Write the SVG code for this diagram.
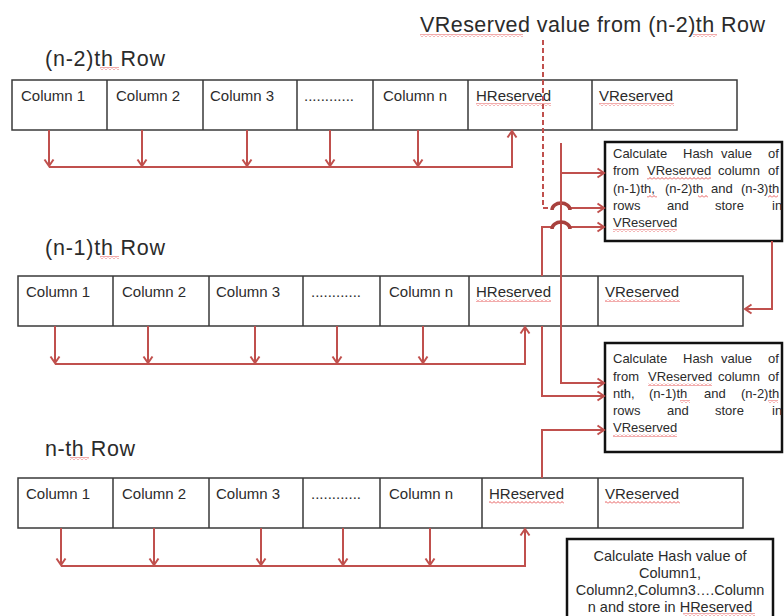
<svg xmlns="http://www.w3.org/2000/svg" width="784" height="616" viewBox="0 0 784 616">
<defs>
<marker id="ah" viewBox="-8 -6 10 12" refX="0" refY="0" markerWidth="10" markerHeight="12" markerUnits="userSpaceOnUse" orient="auto">
<path d="M-6.5,-4.5 L0,0 L-6.5,4.5" fill="none" stroke="#C0504D" stroke-width="2"/>
</marker>
<pattern id="sq" width="4" height="3" patternUnits="userSpaceOnUse">
<path d="M0,2.5 L2,0.5 L4,2.5" fill="none" stroke="#E03030" stroke-width="0.8"/>
</pattern>
<style>
.tb{fill:#fff;stroke:#3a3a3a;stroke-width:1.5}
.dv{stroke:#3a3a3a;stroke-width:1.5}
.ct{font-family:"Liberation Sans",Arial,sans-serif;font-size:15px;fill:#2b2b2b}
.lb{font-family:"Liberation Sans",Arial,sans-serif;font-size:21.5px;fill:#2b2b2b}
.bx{fill:#fff;stroke:#111;stroke-width:2.5}
.bt{font-family:"Liberation Sans",Arial,sans-serif;font-size:13px;fill:#2b2b2b}
.b3{font-family:"Liberation Sans",Arial,sans-serif;font-size:14.5px;fill:#2b2b2b;text-anchor:middle}
.cn{fill:none;stroke:#C0504D;stroke-width:2}
.ar{marker-end:url(#ah)}
.hop{fill:none;stroke:#A8403D;stroke-width:3.5}
.sq{fill:url(#sq)}
</style>
</defs>
<rect width="784" height="616" fill="#fff"/>

<g id="title">
<text class="lb" x="420" y="32" textLength="345" lengthAdjust="spacing">VReserved value from (n-2)th Row</text>
<rect class="sq" x="420" y="34" width="103" height="3"/>
<rect class="sq" x="693" y="34" width="24" height="3"/>
</g>

<g id="row-n2">
<text class="lb" x="45" y="66" textLength="120" lengthAdjust="spacing">(n-2)th Row</text>
<rect class="sq" x="100" y="67" width="19" height="3"/>
<rect class="tb" x="12" y="80" width="725" height="50"/>
<path class="dv" d="M107,80V130M203,80V130M297,80V130M373,80V130M468,80V130M592,80V130"/>
<text class="ct" y="101"><tspan x="21">Column 1</tspan><tspan x="116">Column 2</tspan><tspan x="210">Column 3</tspan><tspan x="304">............</tspan><tspan x="383">Column n</tspan><tspan x="476">HReserved</tspan><tspan x="599">VReserved</tspan></text>
<rect class="sq" x="476" y="103" width="75" height="3"/>
<rect class="sq" x="599" y="103" width="75" height="3"/>
</g>

<g id="row-n1">
<text class="lb" x="45" y="255" textLength="120" lengthAdjust="spacing">(n-1)th Row</text>
<rect class="sq" x="100" y="256" width="19" height="3"/>
<rect class="tb" x="18" y="276" width="725" height="50"/>
<path class="dv" d="M113,276V326M209,276V326M303,276V326M380,276V326M469,276V326M598,276V326"/>
<text class="ct" y="297"><tspan x="26">Column 1</tspan><tspan x="122">Column 2</tspan><tspan x="216">Column 3</tspan><tspan x="311">............</tspan><tspan x="389">Column n</tspan><tspan x="476">HReserved</tspan><tspan x="605">VReserved</tspan></text>
<rect class="sq" x="476" y="299" width="75" height="3"/>
<rect class="sq" x="605" y="299" width="75" height="3"/>
</g>

<g id="row-n">
<text class="lb" x="45" y="456" textLength="90" lengthAdjust="spacing">n-th Row</text>
<rect class="sq" x="70" y="457" width="19" height="3"/>
<rect class="tb" x="18" y="478" width="725" height="50"/>
<path class="dv" d="M113,478V528M209,478V528M303,478V528M380,478V528M482,478V528M598,478V528"/>
<text class="ct" y="499"><tspan x="26">Column 1</tspan><tspan x="122">Column 2</tspan><tspan x="216">Column 3</tspan><tspan x="311">............</tspan><tspan x="389">Column n</tspan><tspan x="489">HReserved</tspan><tspan x="605">VReserved</tspan></text>
<rect class="sq" x="489" y="501" width="75" height="3"/>
<rect class="sq" x="605" y="501" width="75" height="3"/>
</g>

<g id="box-v1">
<rect class="bx" x="605" y="142" width="177" height="99"/>
<text class="bt" y="158"><tspan x="613">Calculate</tspan><tspan x="683">Hash</tspan><tspan x="721">value</tspan><tspan x="768">of</tspan></text>
<text class="bt" y="175"><tspan x="613">from</tspan><tspan x="647">VReserved</tspan><tspan x="718">column</tspan><tspan x="768">of</tspan></text>
<text class="bt" y="193"><tspan x="613">(n-1)th,</tspan><tspan x="665">(n-2)th</tspan><tspan x="711">and</tspan><tspan x="741">(n-3)th</tspan></text>
<text class="bt" y="210"><tspan x="613">rows</tspan><tspan x="667">and</tspan><tspan x="715">store</tspan><tspan x="772">in</tspan></text>
<text class="bt" y="227"><tspan x="613">VReserved</tspan></text>
<rect class="sq" x="647" y="177" width="64" height="3"/>
<rect class="sq" x="647" y="195" width="10" height="3"/>
<rect class="sq" x="698" y="195" width="10" height="3"/>
<rect class="sq" x="768" y="195" width="10" height="3"/>
<rect class="sq" x="613" y="229" width="64" height="3"/>
</g>

<g id="box-v2">
<rect class="bx" x="605" y="343" width="177" height="109"/>
<text class="bt" y="363"><tspan x="613">Calculate</tspan><tspan x="683">Hash</tspan><tspan x="721">value</tspan><tspan x="768">of</tspan></text>
<text class="bt" y="381"><tspan x="613">from</tspan><tspan x="648">VReserved</tspan><tspan x="718">column</tspan><tspan x="768">of</tspan></text>
<text class="bt" y="398"><tspan x="613">nth,</tspan><tspan x="649">(n-1)th</tspan><tspan x="704">and</tspan><tspan x="741">(n-2)th</tspan></text>
<text class="bt" y="415"><tspan x="613">rows</tspan><tspan x="667">and</tspan><tspan x="715">store</tspan><tspan x="772">in</tspan></text>
<text class="bt" y="432"><tspan x="613">VReserved</tspan></text>
<rect class="sq" x="648" y="383" width="64" height="3"/>
<rect class="sq" x="680" y="400" width="10" height="3"/>
<rect class="sq" x="768" y="400" width="10" height="3"/>
<rect class="sq" x="613" y="434" width="64" height="3"/>
</g>

<g id="box-h">
<rect class="bx" x="567" y="539" width="206" height="90"/>
<text class="b3" x="670" y="561">Calculate Hash value of</text>
<text class="b3" x="670" y="578">Column1,</text>
<text class="b3" x="670" y="595">Column2,Column3….Column</text>
<text class="b3" x="670" y="612">n and store in HReserved</text>
<rect class="sq" x="683" y="613" width="72" height="3"/>
</g>

<g id="connectors">
<path class="cn ar" d="M49,130V166"/>
<path class="cn ar" d="M142,130V166"/>
<path class="cn ar" d="M247,130V166"/>
<path class="cn ar" d="M330,130V166"/>
<path class="cn ar" d="M418,130V166"/>
<path class="cn ar" d="M49,167H512V131"/>
<path class="cn ar" d="M55,326V363"/>
<path class="cn ar" d="M148,326V363"/>
<path class="cn ar" d="M255,326V363"/>
<path class="cn ar" d="M337,326V363"/>
<path class="cn ar" d="M423,326V363"/>
<path class="cn ar" d="M55,364H525V327"/>
<path class="cn ar" d="M61,528V565"/>
<path class="cn ar" d="M154,528V565"/>
<path class="cn ar" d="M261,528V565"/>
<path class="cn ar" d="M343,528V565"/>
<path class="cn ar" d="M430,528V565"/>
<path class="cn ar" d="M61,566H525V529"/>
<path class="cn" stroke-dasharray="5,3" d="M543,40V208H552"/>
<path class="cn ar" d="M570,208H604"/>
<path class="hop" d="M552,210A9,7 0 0 1 570,210"/>
<path class="cn ar" d="M561,143V383H604"/>
<path class="cn ar" d="M561,173H604"/>
<path class="cn" d="M542,276V227H552"/>
<path class="cn ar" d="M570,227H604"/>
<path class="hop" d="M552,229A9,7 0 0 1 570,229"/>
<path class="cn ar" d="M772,241V309H745"/>
<path class="cn ar" d="M542,326V396H604"/>
<path class="cn ar" d="M542,478V430H604"/>
</g>
</svg>
